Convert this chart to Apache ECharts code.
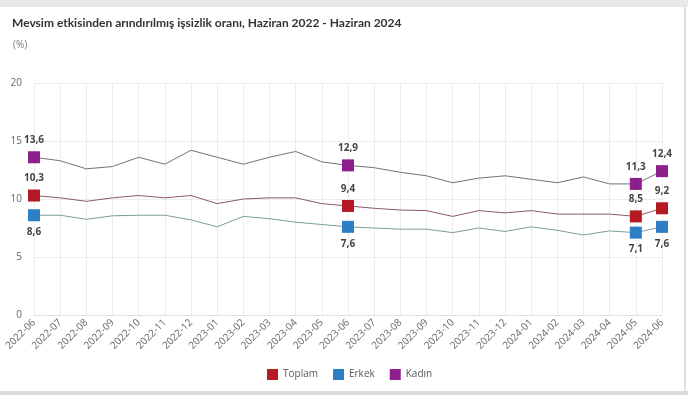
<!DOCTYPE html>
<html><head><meta charset="utf-8">
<script src="https://cdn.jsdelivr.net/npm/echarts@6/dist/echarts.min.js"></script>
<style>html,body{margin:0;padding:0;background:#fff}#c{width:688px;height:395px}</style>
</head><body><div id="c"></div>
<script>
const categories = ['2022-06','2022-07','2022-08','2022-09','2022-10','2022-11','2022-12','2023-01','2023-02','2023-03','2023-04','2023-05','2023-06','2023-07','2023-08','2023-09','2023-10','2023-11','2023-12','2024-01','2024-02','2024-03','2024-04','2024-05','2024-06'];
const toplam = [10.3,10.1,9.8,10.1,10.3,10.1,10.3,9.6,10.0,10.1,10.1,9.6,9.4,9.2,9.05,9.0,8.5,9.0,8.8,9.0,8.7,8.7,8.7,8.5,9.2];
const erkek  = [8.6,8.6,8.25,8.55,8.6,8.6,8.2,7.6,8.5,8.3,8.0,7.8,7.6,7.5,7.4,7.4,7.1,7.5,7.2,7.6,7.3,6.9,7.25,7.1,7.6];
const kadin  = [13.6,13.3,12.6,12.8,13.6,13.0,14.2,13.6,13.0,13.6,14.1,13.2,12.9,12.7,12.3,12.0,11.4,11.8,12.0,11.7,11.4,11.9,11.3,11.3,12.4];
const highlighted = [0,12,23,24];
const yTicks = [0,5,10,15,20];

const fmt = v => v.toFixed(1).replace('.', ',');
function build(arr, pos){
  return arr.map((v,i)=> highlighted.includes(i)
    ? {value:v, symbol:'rect', symbolSize:12, label:{show:true, position:pos, distance:6, formatter:p=>fmt(p.value), fontSize:10, fontWeight:'bold', color:'#444', fontFamily:'Open Sans'}}
    : {value:v, symbol:'none'});
}
const chart = echarts.init(document.getElementById('c'));
chart.setOption({
  animation:false,
  backgroundColor:'#fff',
  title:[
    {text:'Mevsim etkisinden arındırılmış işsizlik oranı, Haziran 2022 - Haziran 2024', left:7, top:12, textStyle:{fontSize:12, fontWeight:'bold', color:'#333', fontFamily:'Lato'}},
    {text:'(%)', left:8, top:35, textStyle:{fontSize:10, fontWeight:'normal', color:'#777', fontFamily:'Open Sans'}}
  ],
  graphic:[
    {type:'rect', shape:{x:0,y:0,width:688,height:7}, style:{fill:'#e8e8e8'}},
    {type:'rect', shape:{x:0,y:391,width:688,height:4}, style:{fill:'#dcdcdc'}},
    {type:'rect', shape:{x:684,y:7,width:2,height:384}, style:{fill:'#e0e0e0'}}
  ],
  grid:{left:34, right:26, top:83, bottom:80},
  legend:{bottom:10, left:262, icon:'rect', itemWidth:11, itemHeight:11, itemGap:15,
    textStyle:{fontSize:10, color:'#555', fontFamily:'Open Sans'},
    data:['Toplam','Erkek','Kadın']},
  xAxis:{type:'category', data:categories, boundaryGap:false,
    axisLine:{lineStyle:{color:'#e0e0e0'}}, axisTick:{show:false},
    axisLabel:{rotate:45, fontSize:10, color:'#666', margin:6, fontFamily:'Open Sans'},
    splitLine:{show:true, lineStyle:{color:'#ececec'}}},
  yAxis:{type:'value', min:yTicks[0], max:yTicks[yTicks.length-1], interval:5,
    axisLine:{show:false}, axisTick:{show:false},
    axisLabel:{fontSize:10, color:'#666', margin:12, fontFamily:'Open Sans'},
    splitLine:{lineStyle:{color:'#ececec'}}},
  series:[
    {name:'Toplam', type:'line', data:build(toplam,'top'), itemStyle:{color:'#b51a24'}, lineStyle:{color:'#8e5a60', width:1}, emphasis:{disabled:true}},
    {name:'Erkek', type:'line', data:build(erkek,'bottom'), itemStyle:{color:'#2d7fc4'}, lineStyle:{color:'#7b9c9a', width:1}, emphasis:{disabled:true}},
    {name:'Kadın', type:'line', data:build(kadin,'top'), itemStyle:{color:'#8c1f8c'}, lineStyle:{color:'#7a7078', width:1}, emphasis:{disabled:true}}
  ]
});
</script></body></html>
